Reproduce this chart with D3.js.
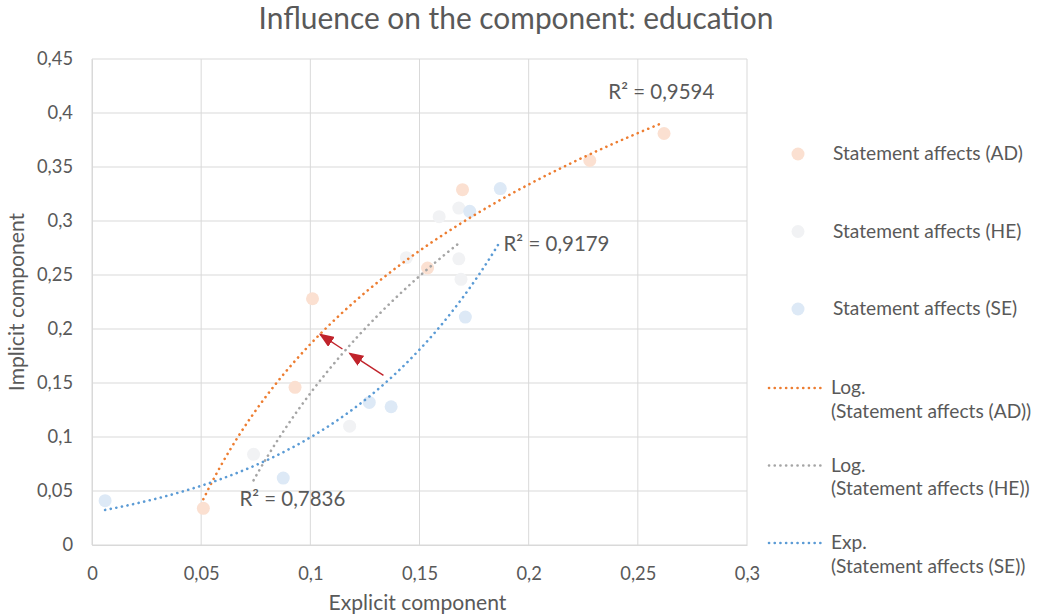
<!DOCTYPE html>
<html>
<head>
<meta charset="utf-8">
<script src="https://cdn.jsdelivr.net/npm/d3@7"></script>
<style>
  body { margin: 0; background: #fff; }
  svg { display: block; font-family: Lato, "Open Sans", sans-serif; }
</style>
</head>
<body>
<svg id="chart" width="1046" height="616"></svg>
<script>
// values
const adX = [0.051, 0.093, 0.101, 0.1537, 0.1697, 0.228, 0.262];
const adY = [0.034, 0.146, 0.228, 0.2565, 0.329, 0.356, 0.381];
const heX = [0.074, 0.118, 0.144, 0.159, 0.168, 0.168, 0.169];
const heY = [0.084, 0.110, 0.266, 0.304, 0.312, 0.265, 0.246];
const seX = [0.006, 0.0876, 0.127, 0.137, 0.171, 0.173, 0.187];
const seY = [0.041, 0.062, 0.132, 0.128, 0.211, 0.309, 0.330];

const xTicks = [0, 0.05, 0.1, 0.15, 0.2, 0.25, 0.3];
const yTicks = [0, 0.05, 0.1, 0.15, 0.2, 0.25, 0.3, 0.35, 0.4, 0.45];
const r2Labels = ["R² = 0,9594", "R² = 0,7836", "R² = 0,9179"];
// red annotation arrows, [x1, y1, x2, y2] in data units
const arrows = [[0.1147, 0.1815, 0.1045, 0.195], [0.1335, 0.157, 0.118, 0.1775]];

const series = [
  { name: "Statement affects (AD)", xs: adX, ys: adY, fill: "#fbe0d1", line: "#ed7d31", fit: "log", trend: "Log." },
  { name: "Statement affects (HE)", xs: heX, ys: heY, fill: "#f1f2f4", line: "#a5a5a5", fit: "log", trend: "Log." },
  { name: "Statement affects (SE)", xs: seX, ys: seY, fill: "#dde9f6", line: "#5b9bd5", fit: "exp", trend: "Exp." }
];

const svg = d3.select("#chart");
const margin = { top: 59, left: 92, right: 299, bottom: 71 };
const W = 1046, H = 616;
const textCol = "#595959";
const grid = "#d9d9d9";

// pick a font size so a sample string takes the width it has in the reference
function sizeFor(sample, width) {
  const t = svg.append("text").attr("font-size", "20px").text(sample);
  const w = t.node().getComputedTextLength();
  t.remove();
  return 20 * width / w;
}
const titleSize = sizeFor("Influence on the component: education", 515);
const tickSize = sizeFor("0,45", 36);
const axisSize = sizeFor("Explicit component", 178);
const legSize = sizeFor("Statement affects (AD)", 190);
const r2Size = sizeFor("R² = 0,9594", 106);

const x = d3.scaleLinear().domain([0, 0.3]).range([margin.left, W - margin.right]);
const y = d3.scaleLinear().domain([0, 0.45]).range([H - margin.bottom, margin.top]);
const fmt = v => String(v).replace(".", ",");

// gridlines
svg.append("g").selectAll("line").data(xTicks).join("line")
  .attr("x1", d => x(d)).attr("x2", d => x(d))
  .attr("y1", y(0)).attr("y2", y(0.45))
  .attr("stroke", grid).attr("stroke-width", 1);
svg.append("g").selectAll("line").data(yTicks).join("line")
  .attr("x1", x(0)).attr("x2", x(0.3))
  .attr("y1", d => y(d)).attr("y2", d => y(d))
  .attr("stroke", grid).attr("stroke-width", 1);

// axes
const xAxis = svg.append("g")
  .attr("transform", `translate(0,${y(0)})`)
  .call(d3.axisBottom(x).tickValues(xTicks).tickFormat(fmt).tickSize(0).tickPadding(22));
const yAxis = svg.append("g")
  .attr("transform", `translate(${x(0)},0)`)
  .call(d3.axisLeft(y).tickValues(yTicks).tickFormat(fmt).tickSize(0).tickPadding(19));
[xAxis, yAxis].forEach(a => {
  a.select(".domain").attr("stroke", grid);
  a.selectAll("text").attr("fill", textCol).attr("font-size", tickSize + "px")
    .attr("font-family", "Lato, sans-serif");
});

// title and axis titles
svg.append("text").attr("x", 516).attr("y", 29).attr("text-anchor", "middle")
  .attr("font-size", titleSize + "px").attr("fill", textCol)
  .text("Influence on the component: education");
svg.append("text").attr("x", x(0.15) - 2).attr("y", 610).attr("text-anchor", "middle")
  .attr("font-size", axisSize + "px").attr("fill", textCol).text("Explicit component");
svg.append("text").attr("transform", `translate(24,${y(0.225)}) rotate(-90)`)
  .attr("text-anchor", "middle")
  .attr("font-size", axisSize + "px").attr("fill", textCol).text("Implicit component");

// least-squares fits, same way a spreadsheet trendline works
function fitSeries(s) {
  const tx = s.fit === "log" ? s.xs.map(Math.log) : s.xs;
  const ty = s.fit === "exp" ? s.ys.map(Math.log) : s.ys;
  const mx = d3.mean(tx), my = d3.mean(ty);
  const b = d3.sum(tx, (v, i) => (v - mx) * (ty[i] - my)) / d3.sum(tx, v => (v - mx) ** 2);
  const a = my - b * mx;
  return s.fit === "log" ? v => a + b * Math.log(v) : v => Math.exp(a + b * v);
}

const line = d3.line().x(d => x(d[0])).y(d => y(d[1]));
series.forEach(s => {
  const f = fitSeries(s);
  const [lo, hi] = d3.extent(s.xs);
  s.path = d3.range(0, 101).map(i => {
    const v = lo + (hi - lo) * i / 100;
    return [v, f(v)];
  });
});

// markers first, trendlines on top
series.forEach(s => {
  svg.append("g").selectAll("circle").data(s.xs).join("circle")
    .attr("cx", d => x(d)).attr("cy", (d, i) => y(s.ys[i]))
    .attr("r", 6.5).attr("fill", s.fill);
});
series.forEach(s => {
  svg.append("path").attr("d", line(s.path))
    .attr("fill", "none").attr("stroke", s.line).attr("stroke-width", 2.6)
    .attr("stroke-linecap", "round").attr("stroke-dasharray", "0.1 5.6");
});

// R² labels
const r2Pos = [[0.2365, 0.413], [0.0675, 0.036], [0.1885, 0.272]];
r2Labels.forEach((t, i) => {
  svg.append("text").attr("x", x(r2Pos[i][0])).attr("y", y(r2Pos[i][1]))
    .attr("font-size", r2Size + "px").attr("fill", textCol).text(t);
});

// arrows
svg.append("defs").append("marker")
  .attr("id", "head").attr("viewBox", "0 0 10 10")
  .attr("refX", 9).attr("refY", 5)
  .attr("markerWidth", 15).attr("markerHeight", 12)
  .attr("markerUnits", "userSpaceOnUse").attr("orient", "auto")
  .attr("preserveAspectRatio", "none")
  .append("path").attr("d", "M0,0 L10,5 L0,10 z").attr("fill", "#c0232b");
arrows.forEach(a => {
  svg.append("line")
    .attr("x1", x(a[0])).attr("y1", y(a[1]))
    .attr("x2", x(a[2])).attr("y2", y(a[3]))
    .attr("stroke", "#c0232b").attr("stroke-width", 1.4)
    .attr("marker-end", "url(#head)");
});

// legend
const leg = svg.append("g");
series.forEach((s, i) => {
  const ly = 154 + i * 77.5;
  leg.append("circle").attr("cx", 798).attr("cy", ly).attr("r", 6.5).attr("fill", s.fill);
  leg.append("text").attr("x", 833).attr("y", ly + 6)
    .attr("font-size", legSize + "px").attr("fill", textCol).text(s.name);
});
series.forEach((s, i) => {
  const ly = 388 + i * 77.5;
  leg.append("line").attr("x1", 769).attr("x2", 823).attr("y1", ly).attr("y2", ly)
    .attr("stroke", s.line).attr("stroke-width", 2.6)
    .attr("stroke-linecap", "round").attr("stroke-dasharray", "0.1 5.6");
  const t = leg.append("text").attr("x", 831).attr("y", ly + 6)
    .attr("font-size", legSize + "px").attr("fill", textCol);
  t.append("tspan").attr("x", 831).text(s.trend);
  t.append("tspan").attr("x", 831).attr("dy", 23.5).text(`(${s.name})`);
});
</script>
</body>
</html>
